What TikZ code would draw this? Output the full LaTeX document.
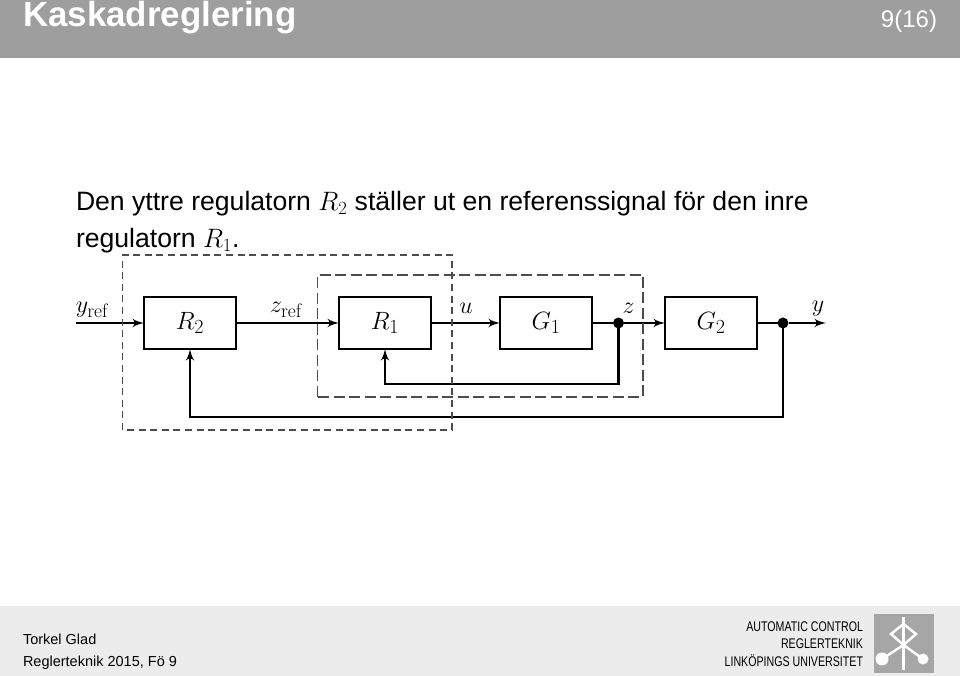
\documentclass[tikz,border=0pt]{standalone}
\usepackage{fix-cm}
\usepackage[no-math]{fontspec}
\setmainfont{Liberation Sans}
\newfontfamily\deptfont[FakeStretch=0.76]{Liberation Sans}
\usepackage{tikz}
\usetikzlibrary{positioning,calc,arrows}
\definecolor{headgray}{gray}{0.62}
\definecolor{footgray}{gray}{0.925}
\definecolor{logogray}{gray}{0.65}
\definecolor{dashgray}{gray}{0.3}
\DeclareMathSizes{24}{24}{19.5}{15}
\DeclareMathSizes{25}{25}{20}{15}
\newcommand{\blocksize}{\fontsize{25}{30}\selectfont}
\newcommand{\sigsize}{\fontsize{24}{28}\selectfont}
\begin{document}
\begin{tikzpicture}[x=1pt,y=1pt,auto]
    \tikzstyle{every node}=[inner sep=0,outer sep=0]
    \tikzstyle{block}=[draw,line width=2.6,minimum width=92,minimum height=52,font=\blocksize]
    \tikzstyle{sig}=[font=\sigsize]
    \tikzstyle{dot}=[circle,fill=black,minimum size=11]
    \tikzstyle{wire}=[line width=2.95]
    \tikzstyle{flow}=[wire,-latex']
    \tikzstyle{footer}=[font=\fontsize{14.5}{17}\selectfont]
    \tikzstyle{dept}=[anchor=base east,font=\deptfont\fontsize{14}{16}\selectfont]
    \tikzstyle{body}=[anchor=base west,font=\fontsize{26.6}{32}\selectfont]
    \tikzstyle{logo}=[white,line width=2.5]
    \useasboundingbox (0,0) rectangle (960,676);
    {
        % bars
        \fill[headgray] (0,618) rectangle (960,676);
        \fill[footgray] (0,0) rectangle (960,70);
        \node[anchor=base west,text=white,font=\fontsize{34.9}{40}\bfseries\selectfont] (title) at (23,649) {Kaskadreglering};
        \node[anchor=base east,text=white,font=\fontsize{24}{28}\selectfont] (page) at (937,648) {9(16)};

        % text
        \node[body] (line1) at (76,465) {Den yttre regulatorn $R_2$ ställer ut en referenssignal för den inre};
        \node[body] (line2) at (76,428) {regulatorn $R_1$.};

        % blocks
        \node[block] (r2) at (190,353) {$R_2$};
        \node[block,node distance=195] (r1) [right of=r2] {$R_1$};
        \node[block,node distance=161] (g1) [right of=r1] {$G_1$};
        \node[block,node distance=165] (g2) [right of=g1] {$G_2$};
        \node[dot] (zdot) at (618.5,353) {};
        \node[dot] (ydot) at (783,353) {};
        \coordinate (in) at (76,353);
        \coordinate (out) at (826,353);
        \coordinate (zdown) at (618.5,292);
        \coordinate (ydown) at (783,259);

        % signals
        \draw[flow] (in) -- (r2);
        \draw[flow] (r2) -- (r1);
        \draw[flow] (r1) -- (g1);
        \draw[wire] (g1) -- (zdot);
        \draw[flow] (zdot) -- (g2);
        \draw[wire] (g2) -- (ydot);
        \draw[flow] (ydot) -- (out);
        \draw[flow] (zdot) -- (zdown) -| (r1);
        \draw[flow] (ydot) -- (ydown) -| (r2);

        % labels
        \node[sig] (lyref) at (92.5,366) {$y_{\rm ref}$};
        \node[sig] (lzref) at (286.5,366) {$z_{\rm ref}$};
        \node[sig] (lu) at (466,368) {$u$};
        \node[sig] (lz) at (628.5,368) {$z$};
        \node[sig] (ly) at (818,367) {$y$};

        % dashed frames
        \draw[dashgray,line width=1.4,dash pattern=on 7pt off 4.6pt] (122.5,246) rectangle (452,421);
        \draw[dashgray,line width=1.4,dash pattern=on 11pt off 4.5pt] (317.5,279) rectangle (643,401);

        % footer
        \node[footer,anchor=base west] (author) at (23,31) {Torkel Glad};
        \node[footer,anchor=base west] (course) at (23,9) {Reglerteknik 2015, Fö 9};
        \node[dept] (dept1) at (863,44) {AUTOMATIC CONTROL};
        \node[dept] (dept2) at (863,27) {REGLERTEKNIK};
        \node[dept] (dept3) at (863,9) {LINKÖPINGS UNIVERSITET};

        % logo
        \fill[logogray] (874,3) rectangle (934,62);
        \draw[logo] (903.5,59) -- (903.5,6);
        \draw[logo] (891,42) -- (903.5,52) -- (916,42) -- (903.5,31) -- cycle;
        \draw[logo] (882,17) -- (903.5,31) -- (923,17);
        \fill[white] (882,17) circle (6.5);
        \fill[white] (923,17) circle (5.5);
    }
\end{tikzpicture}
\end{document}
